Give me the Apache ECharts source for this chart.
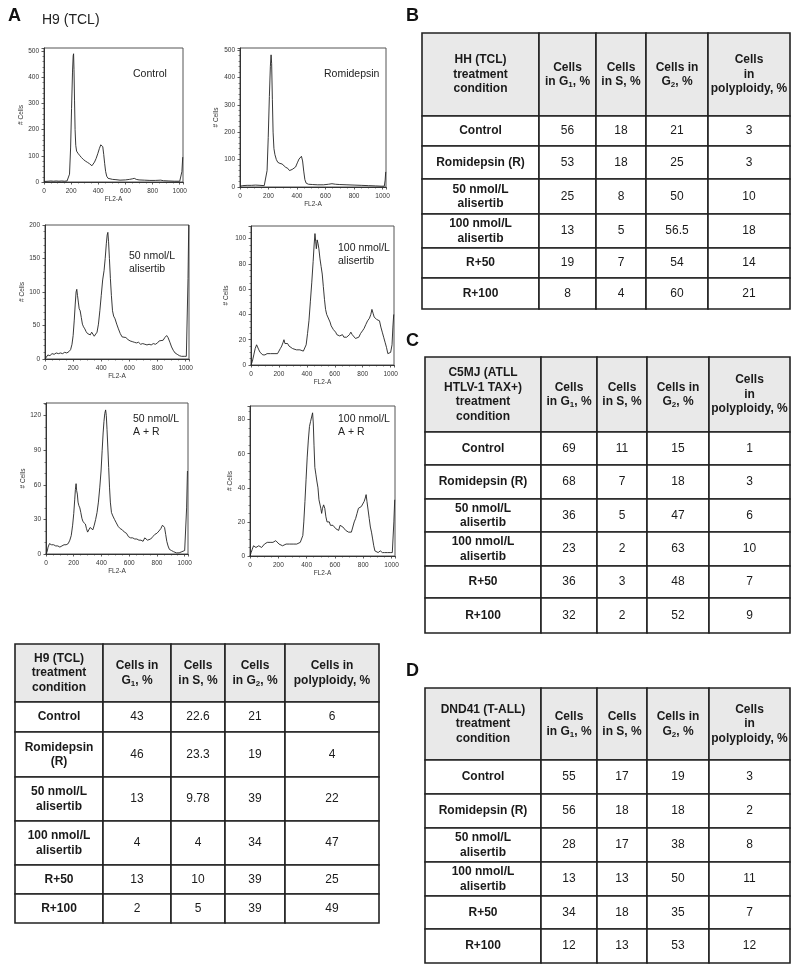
<!DOCTYPE html>
<html><head><meta charset="utf-8">
<script src="https://cdn.jsdelivr.net/npm/echarts@6/dist/echarts.min.js"></script>
<style>html,body{margin:0;padding:0;background:#fff}#c{width:800px;height:973px}</style>
</head><body><div id="c"></div><script>
const FONT = '"Liberation Sans", Arial, Helvetica, sans-serif';

// ---------- Histogram data (FL2-A channel, # cells) ----------
const histControl = [[0,2],[10,4],[30,3],[50,4],[70,3],[90,4],[110,3],[130,4],[150,3],[170,4],[180,5],[188,30],[196,130],[203,280],[210,420],[215,482],[218,490],[221,430],[225,310],[229,200],[234,140],[240,118],[250,110],[262,102],[275,94],[290,86],[305,80],[320,75],[335,70],[345,64],[353,62],[362,68],[372,76],[384,90],[396,108],[408,128],[418,142],[426,148],[433,135],[440,105],[447,70],[454,40],[462,22],[472,14],[485,12],[505,10],[530,9],[560,7],[600,8],[630,10],[650,12],[665,14],[680,10],[700,8],[740,7],[780,6],[820,6],[860,7],[880,5],[920,4],[960,3],[1000,3],[1012,3],[1016,40],[1022,95]];
const histRomi = [[0,3],[20,5],[50,6],[80,6],[110,7],[140,6],[170,5],[182,8],[190,60],[198,180],[206,330],[213,440],[218,482],[222,450],[227,320],[232,200],[238,140],[245,118],[255,100],[265,90],[280,86],[295,84],[308,78],[320,72],[335,68],[347,60],[356,56],[366,64],[378,70],[390,73],[402,88],[414,102],[424,108],[431,112],[439,95],[447,58],[455,27],[464,14],[480,10],[510,9],[545,8],[585,8],[620,10],[645,12],[670,10],[700,9],[750,8],[800,7],[850,6],[900,5],[950,4],[990,3],[1012,3],[1018,25],[1022,55]];
const histAli50 = [[0,0],[10,3],[20,6],[35,5],[50,8],[65,7],[80,9],[95,8],[110,9],[125,8],[140,10],[155,9],[170,11],[182,14],[192,22],[200,35],[208,58],[215,82],[221,100],[226,104],[231,95],[237,85],[243,75],[250,72],[258,62],[266,52],[274,48],[283,45],[292,41],[302,38],[312,37],[322,36],[332,40],[340,38],[350,34],[360,35],[370,40],[380,52],[390,72],[400,95],[410,118],[420,132],[428,150],[436,172],[442,185],[447,189],[452,175],[458,150],[465,120],[472,95],[480,72],[488,64],[498,60],[510,52],[522,45],[535,38],[548,33],[560,31],[575,32],[590,29],[605,27],[620,26],[635,25],[650,24],[665,25],[680,22],[695,23],[710,22],[725,21],[740,22],[755,21],[770,23],[785,22],[800,24],[812,27],[825,25],[840,28],[852,32],[865,35],[875,32],[888,25],[900,18],[912,13],[925,9],[940,7],[955,5],[970,4],[990,4],[1005,4],[1013,5],[1017,120],[1022,200]];
const histAli100 = [[0,0],[10,3],[20,8],[30,13],[40,16],[48,15],[56,12],[65,10],[75,9],[85,8],[100,8],[115,9],[128,10],[140,9],[152,8],[165,9],[178,8],[190,9],[200,11],[210,13],[220,15],[230,18],[236,20],[243,17],[252,18],[262,17],[272,15],[285,14],[298,13],[312,13],[325,12],[338,13],[350,12],[362,12],[375,11],[385,12],[395,16],[405,25],[415,35],[425,50],[435,65],[445,82],[452,95],[458,104],[463,98],[468,92],[474,99],[480,96],[486,92],[494,84],[502,78],[510,72],[518,62],[526,52],[534,44],[542,40],[550,38],[558,39],[566,34],[574,31],[582,30],[590,28],[598,29],[606,26],[615,24],[625,25],[635,23],[645,22],[655,24],[665,22],[675,23],[685,22],[695,21],[705,24],[715,26],[725,24],[735,23],[748,21],[760,20],[772,22],[785,25],[798,27],[810,29],[822,32],[835,35],[848,37],[858,40],[866,44],[874,41],[882,38],[890,39],[900,36],[910,37],[920,35],[930,30],[940,26],[950,22],[960,18],[970,14],[980,9],[990,8],[1000,10],[1010,16],[1016,30],[1022,40]];
const histAR50 = [[0,0],[8,2],[15,6],[25,9],[40,8],[55,8],[70,7],[85,7],[100,6],[115,7],[130,8],[145,8],[160,9],[172,12],[182,16],[192,25],[200,35],[207,47],[212,56],[217,61],[221,55],[226,52],[231,45],[237,42],[244,40],[251,36],[259,31],[267,28],[275,27],[284,26],[292,22],[300,19],[308,20],[318,23],[328,22],[338,21],[348,25],[358,30],[368,36],[378,45],[388,58],[397,72],[405,90],[412,105],[418,115],[424,122],[430,125],[435,120],[440,108],[446,92],[452,75],[458,58],[464,45],[472,36],[482,33],[494,30],[507,27],[520,24],[535,22],[550,21],[565,19],[580,18],[595,15],[610,14],[625,14],[640,13],[655,13],[670,12],[685,12],[700,11],[712,14],[722,13],[732,12],[742,11],[755,13],[770,15],[785,17],[800,18],[815,20],[828,22],[840,25],[847,26],[855,23],[863,17],[871,11],[880,7],[890,4],[905,3],[920,2],[940,1],[960,1],[980,2],[1000,3],[1010,3],[1014,40],[1020,72]];
const histAR100 = [[0,0],[8,2],[16,4],[25,6],[32,7],[42,5],[52,4],[62,6],[72,7],[82,5],[92,6],[102,7],[112,6],[122,8],[132,7],[142,8],[152,7],[162,8],[172,9],[182,9],[192,8],[205,7],[218,7],[230,6],[242,6],[255,7],[268,6],[280,7],[292,6],[305,7],[318,7],[330,7],[342,8],[355,8],[365,9],[373,12],[380,20],[388,32],[396,45],[404,58],[412,68],[420,76],[428,79],[436,80],[442,84],[447,78],[452,65],[458,52],[465,48],[472,44],[480,40],[487,33],[494,32],[500,28],[506,25],[512,28],[520,30],[528,28],[536,23],[544,20],[552,19],[560,20],[568,18],[576,17],[586,18],[596,17],[606,16],[616,16],[626,15],[636,18],[646,19],[656,17],[666,16],[676,15],[686,15],[696,14],[706,13],[716,14],[726,17],[736,20],[746,22],[756,25],[766,28],[776,28],[786,29],[796,30],[806,32],[814,34],[820,36],[826,32],[834,27],[842,22],[850,17],[858,14],[866,10],[874,6],[882,3],[892,2],[905,2],[920,3],[935,2],[950,2],[970,2],[990,2],[1005,2],[1012,2],[1016,20],[1022,33]];

const histLabels = [['Control'], ['Romidepsin'], ['50 nmol/L', 'alisertib'], ['100 nmol/L', 'alisertib'], ['50 nmol/L', 'A + R'], ['100 nmol/L', 'A + R']];
const histYMax = [512, 507, 200, 110, 131, 88];
const histYInterval = [100, 100, 50, 20, 30, 20];
const xTickInterval = 200;
const xAxisName = 'FL2-A';
const yAxisName = '# Cells';

// ---------- Table data ----------
const rowsH9 = ['Control', 'Romidepsin\n(R)', '50 nmol/L\nalisertib', '100 nmol/L\nalisertib', 'R+50', 'R+100'];
const rowsOther = ['Control', 'Romidepsin (R)', '50 nmol/L\nalisertib', '100 nmol/L\nalisertib', 'R+50', 'R+100'];
const headH9 = ['H9 (TCL)\ntreatment\ncondition', 'Cells in\nG{s|1}, %', 'Cells\nin S, %', 'Cells\nin G{s|2}, %', 'Cells in\npolyploidy, %'];
const headHH = ['HH (TCL)\ntreatment\ncondition', 'Cells\nin G{s|1}, %', 'Cells\nin S, %', 'Cells in\nG{s|2}, %', 'Cells\nin\npolyploidy, %'];
const headC5 = ['C5MJ (ATLL\nHTLV-1 TAX+)\ntreatment\ncondition', 'Cells\nin G{s|1}, %', 'Cells\nin S, %', 'Cells in\nG{s|2}, %', 'Cells\nin\npolyploidy, %'];
const headDND = ['DND41 (T-ALL)\ntreatment\ncondition', 'Cells\nin G{s|1}, %', 'Cells\nin S, %', 'Cells in\nG{s|2}, %', 'Cells\nin\npolyploidy, %'];

const h9G1 = [43, 46, 13, 4, 13, 2];
const h9S = [22.6, 23.3, 9.78, 4, 10, 5];
const h9G2 = [21, 19, 39, 34, 39, 39];
const h9Poly = [6, 4, 22, 47, 25, 49];

const hhG1 = [56, 53, 25, 13, 19, 8];
const hhS = [18, 18, 8, 5, 7, 4];
const hhG2 = [21, 25, 50, 56.5, 54, 60];
const hhPoly = [3, 3, 10, 18, 14, 21];

const c5G1 = [69, 68, 36, 23, 36, 32];
const c5S = [11, 7, 5, 2, 3, 2];
const c5G2 = [15, 18, 47, 63, 48, 52];
const c5Poly = [1, 3, 6, 10, 7, 9];

const dndG1 = [55, 56, 28, 13, 34, 12];
const dndS = [17, 18, 17, 13, 18, 13];
const dndG2 = [19, 18, 38, 50, 35, 53];
const dndPoly = [3, 2, 8, 11, 7, 12];

// ---------- Layout (positions & sizes) ----------
const histLayout = [
  {left: 44, top: 48, width: 139, height: 134, gapY: 19, tx: 133, ty: 74},
  {left: 240, top: 48, width: 146, height: 139, gapY: 20, tx: 324, ty: 74},
  {left: 45, top: 225, width: 144, height: 134, gapY: 19, tx: 129, ty: 256},
  {left: 251, top: 226, width: 143, height: 139, gapY: 21, tx: 338, ty: 248},
  {left: 46, top: 403, width: 142, height: 151, gapY: 16, tx: 133, ty: 419},
  {left: 250, top: 406, width: 145, height: 150, gapY: 16, tx: 338, ty: 419}
];
const tableLayout = [
  {left: 15, top: 644, cols: [0, 88, 156, 210, 270, 364], rows: [0, 58, 88, 133, 177, 221, 250, 279]},
  {left: 422, top: 33, cols: [0, 117, 174, 224, 286, 368], rows: [0, 83, 113, 146, 181, 215, 245, 276]},
  {left: 425, top: 357, cols: [0, 116, 172, 222, 284, 365], rows: [0, 75, 108, 142, 175, 209, 241, 276]},
  {left: 425, top: 688, cols: [0, 116, 172, 222, 284, 365], rows: [0, 72, 106, 140, 174, 208, 241, 275]}
];

const histData = [histControl, histRomi, histAli50, histAli100, histAR50, histAR100];
const tables = [
  {head: headH9, rows: rowsH9, cols: [h9G1, h9S, h9G2, h9Poly]},
  {head: headHH, rows: rowsOther, cols: [hhG1, hhS, hhG2, hhPoly]},
  {head: headC5, rows: rowsOther, cols: [c5G1, c5S, c5G2, c5Poly]},
  {head: headDND, rows: rowsOther, cols: [dndG1, dndS, dndG2, dndPoly]}
];

const grids = [], xAxes = [], yAxes = [], series = [], graphics = [];
const AX = '#333';

histData.forEach((d, i) => {
  const L = histLayout[i];
  const yInt = histYInterval[i];
  grids.push({left: L.left, top: L.top, width: L.width, height: L.height, show: true,
    borderColor: '#555', borderWidth: 1, backgroundColor: 'transparent', containLabel: false, outerBoundsMode: 'none'});
  xAxes.push({gridIndex: i, type: 'value', min: 0, max: 1024, interval: xTickInterval,
    axisLine: {show: true, onZero: false, lineStyle: {color: AX, width: 1}},
    axisTick: {show: true, inside: false, length: 2.5, lineStyle: {color: AX, width: 0.8}},
    minorTick: {show: true, splitNumber: 4, length: 1.5, lineStyle: {color: AX, width: 0.6}},
    splitLine: {show: false}, minorSplitLine: {show: false},
    axisLabel: {fontSize: 6.5, color: '#333', fontFamily: FONT, margin: 6,
      formatter: v => (v % xTickInterval === 0 ? String(v) : '')},
    name: xAxisName, nameLocation: 'middle', nameGap: 14,
    nameTextStyle: {fontSize: 6.5, color: '#333', fontFamily: FONT}});
  yAxes.push({gridIndex: i, type: 'value', min: 0, max: histYMax[i], interval: yInt,
    axisLine: {show: true, onZero: false, lineStyle: {color: AX, width: 1}},
    axisTick: {show: true, inside: false, length: 2.5, lineStyle: {color: AX, width: 0.8}},
    minorTick: {show: true, splitNumber: (yInt === 30 ? 3 : (yInt === 20 ? 4 : 5)), length: 1.5, lineStyle: {color: AX, width: 0.6}},
    splitLine: {show: false}, minorSplitLine: {show: false},
    axisLabel: {fontSize: 6.5, color: '#333', fontFamily: FONT, margin: 5,
      formatter: v => (v % yInt === 0 ? String(v) : '')},
    name: yAxisName, nameLocation: 'middle', nameGap: L.gapY, nameRotate: 90,
    nameTextStyle: {fontSize: 6.5, color: '#333', fontFamily: FONT}});
  series.push({type: 'line', xAxisIndex: i, yAxisIndex: i, data: d, showSymbol: false, symbol: 'none',
    lineStyle: {color: '#222', width: 0.9}, silent: true, animation: false, clip: true});
  histLabels[i].forEach((t, k) => {
    graphics.push({type: 'text', x: L.tx, y: L.ty + k * 13,
      style: {text: t, fill: '#222', font: '10.5px ' + FONT, textAlign: 'left', textVerticalAlign: 'middle', align: 'left', verticalAlign: 'middle'}});
  });
});

const RICH = {s: {fontSize: 8, fontWeight: 'bold', fontFamily: FONT, verticalAlign: 'bottom', lineHeight: 8, fill: '#1a1a1a', color: '#1a1a1a'}};

tables.forEach((tb, ti) => {
  const L = tableLayout[ti];
  const gi = histData.length + ti;
  const W = L.cols[L.cols.length - 1], H = L.rows[L.rows.length - 1];
  grids.push({left: L.left, top: L.top, width: W, height: H, show: false, containLabel: false, outerBoundsMode: 'none'});
  xAxes.push({gridIndex: gi, type: 'value', min: 0, max: W, show: false});
  yAxes.push({gridIndex: gi, type: 'value', min: 0, max: H, inverse: true, show: false});
  const cells = [];
  tb.head.forEach((h, c) => cells.push({c: c, r: 0, text: h}));
  tb.rows.forEach((lab, r) => {
    cells.push({c: 0, r: r + 1, text: lab});
    tb.cols.forEach((col, c) => cells.push({c: c + 1, r: r + 1, text: String(col[r])}));
  });
  series.push({type: 'custom', xAxisIndex: gi, yAxisIndex: gi, silent: true, animation: false,
    data: cells.map(cl => [L.cols[cl.c], L.rows[cl.r]]),
    renderItem: function (params, api) {
      const cl = cells[params.dataIndex];
      const p0 = api.coord([L.cols[cl.c], L.rows[cl.r]]);
      const p1 = api.coord([L.cols[cl.c + 1], L.rows[cl.r + 1]]);
      const bold = cl.r === 0 || cl.c === 0;
      return {
        type: 'rect',
        shape: {x: p0[0], y: p0[1], width: p1[0] - p0[0], height: p1[1] - p0[1]},
        style: {fill: cl.r === 0 ? '#e9e9e9' : '#ffffff', stroke: '#222', lineWidth: 1.6},
        textContent: {style: {text: cl.text, fill: '#1a1a1a', fontFamily: FONT, fontSize: 12,
          fontWeight: bold ? 'bold' : 'normal', lineHeight: 14.5, align: 'center', verticalAlign: 'middle', rich: RICH}},
        textConfig: {position: 'inside'}
      };
    }});
});

// panel letters and title
[['A', 8, 16.5], ['B', 406, 16], ['C', 406, 341], ['D', 406, 671.5]].forEach(p => {
  graphics.push({type: 'text', x: p[1], y: p[2], style: {text: p[0], fill: '#111', font: 'bold 18px ' + FONT,
    textAlign: 'left', textVerticalAlign: 'middle', align: 'left', verticalAlign: 'middle'}});
});
graphics.push({type: 'text', x: 42, y: 20, style: {text: 'H9 (TCL)', fill: '#222', font: '14px ' + FONT,
  textAlign: 'left', textVerticalAlign: 'middle', align: 'left', verticalAlign: 'middle'}});

const chart = echarts.init(document.getElementById('c'), null, {renderer: 'canvas'});
chart.setOption({
  animation: false,
  backgroundColor: '#fff',
  textStyle: {fontFamily: FONT},
  grid: grids, xAxis: xAxes, yAxis: yAxes, series: series, graphic: graphics
});
</script></body></html>
